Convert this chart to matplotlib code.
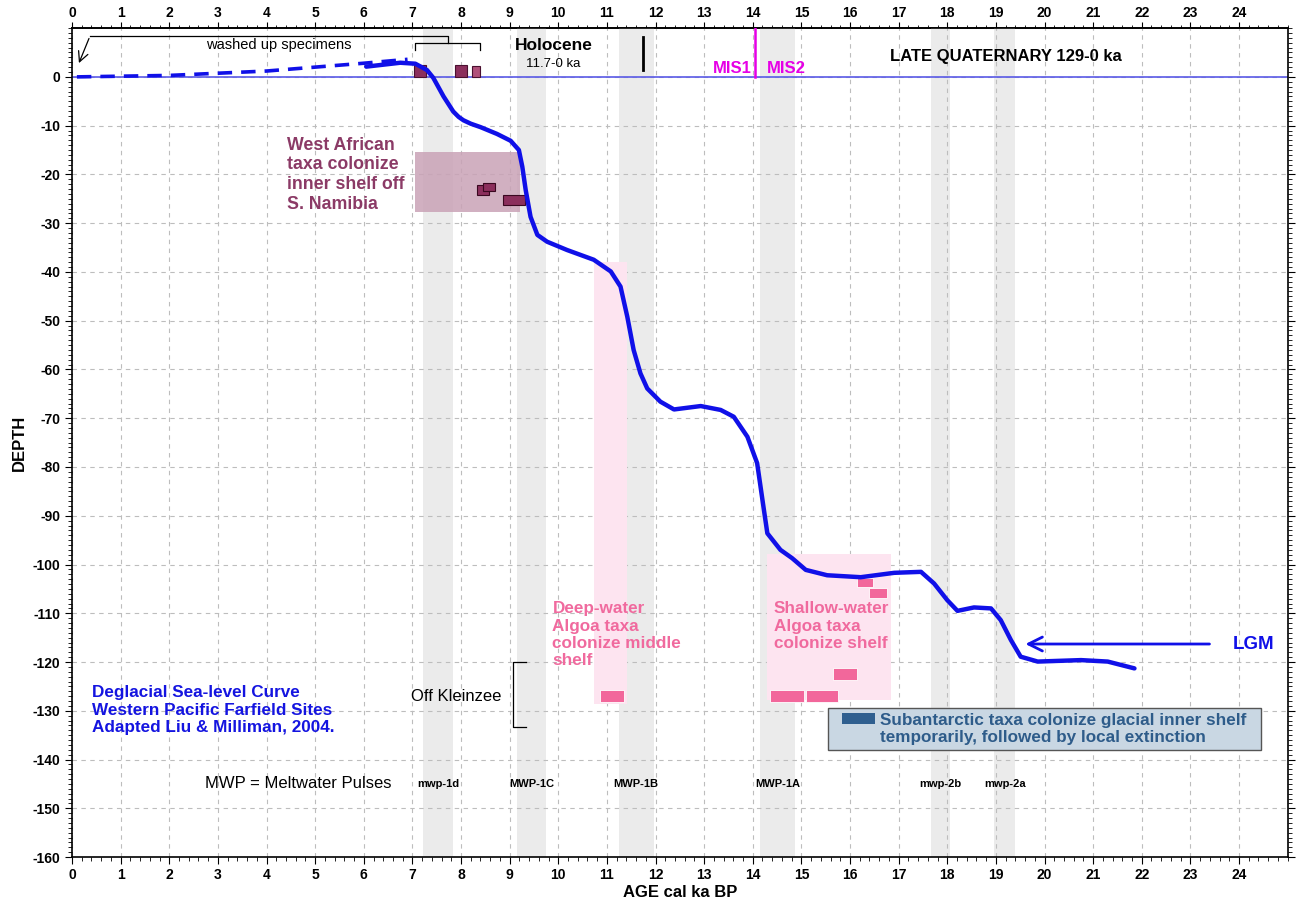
import numpy as np
import matplotlib.pyplot as plt
from matplotlib.ticker import MultipleLocator

plt.rcParams['font.family'] = ['Liberation Sans', 'DejaVu Sans']

# deglacial sea-level curve (age in cal ka BP, depth in m)
curve_age = [6.05, 6.4, 6.75, 7.06, 7.30, 7.43, 7.64, 7.84, 7.95, 8.05, 8.20, 8.40, 8.74, 9.02,
             9.19, 9.26, 9.33, 9.43, 9.57, 9.77, 10.18, 10.73, 11.08, 11.28, 11.42, 11.55,
             11.69, 11.83, 12.10, 12.38, 12.93, 13.34, 13.61, 13.89, 14.09, 14.20, 14.30,
             14.57, 14.81, 15.09, 15.53, 16.22, 16.91, 17.46, 17.73, 18.00, 18.21, 18.55,
             18.90, 19.10, 19.31, 19.51, 19.86, 20.75, 21.30, 21.85]
curve_depth = [2.1, 2.5, 2.9, 2.7, 1.4, -0.2, -4.0, -7.1, -8.2, -8.9, -9.6, -10.3, -11.7, -13.1,
               -15.0, -18.4, -23.2, -28.7, -32.4, -33.8, -35.5, -37.5, -39.9, -43.0, -49.2,
               -56.0, -60.8, -63.9, -66.6, -68.2, -67.5, -68.3, -69.7, -73.8, -79.2, -86.8,
               -93.6, -97.0, -98.7, -101.1, -102.2, -102.6, -101.7, -101.5, -103.9, -107.3,
               -109.5, -108.8, -109.0, -111.4, -115.5, -118.9, -119.9, -119.6, -119.9, -121.3]

# extrapolated late Holocene highstand
dash_age = [0.1, 2.0, 4.0, 6.0, 6.9]
dash_depth = [0.0, 0.3, 1.2, 2.8, 3.6]

# meltwater pulse bands (start, end) and labels
mwp_start = [7.22, 9.15, 11.24, 14.14, 17.67, 18.97]
mwp_end = [7.83, 9.75, 11.96, 14.87, 18.06, 19.40]
mwp_names = ['mwp-1d', 'MWP-1C', 'MWP-1B', 'MWP-1A', 'mwp-2b', 'mwp-2a']

# washed up specimens on the beach (left, right, bottom, top)
washed_left = [7.04, 7.88, 8.22]
washed_right = [7.28, 8.12, 8.39]
washed_bottom = [0.0, 0.0, 0.0]
washed_top = [2.5, 2.5, 2.3]

# West African taxa off S. Namibia
wa_left = [8.33, 8.45, 8.87]
wa_right = [8.58, 8.70, 9.32]
wa_bottom = [-24.2, -23.4, -26.3]
wa_top = [-22.2, -21.7, -24.2]

# Algoa taxa records
algoa_left = [10.85, 14.35, 15.09, 15.65, 16.14, 16.40]
algoa_right = [11.36, 15.05, 15.75, 16.14, 16.47, 16.76]
algoa_bottom = [-128.2, -128.2, -128.2, -123.7, -104.6, -106.9]
algoa_top = [-125.7, -125.7, -125.7, -121.2, -102.8, -104.8]

fig = plt.figure(figsize=(12.98, 9.07), dpi=100)
ax = fig.add_axes([0.0555, 0.055, 0.9365, 0.914])

ax.set_xlim(0, 25)
ax.set_ylim(-160, 10)

# grid
ax.xaxis.set_major_locator(MultipleLocator(1))
ax.xaxis.set_minor_locator(MultipleLocator(0.2))
ax.yaxis.set_major_locator(MultipleLocator(10))
ax.yaxis.set_minor_locator(MultipleLocator(1))
ax.grid(True, which='major', color='#bdbdbd', linestyle=(0, (4, 4)), linewidth=0.8)
ax.set_axisbelow(True)

# meltwater pulse bands
for s, e in zip(mwp_start, mwp_end):
    ax.axvspan(s, e, color='#ebebeb', zorder=0.5, lw=0)
for s, e, name in zip(mwp_start, mwp_end, mwp_names):
    ax.text((s + e) / 2, -145, name, ha='center', va='center', fontsize=8, fontweight='bold')

# habitat boxes
ax.bar(7.05, -27.8 + 15.5, width=2.17, bottom=-15.5, align='edge', color='#c9a2b6', alpha=0.85, lw=0, zorder=1)
ax.bar(10.74, -128.5 + 38, width=0.68, bottom=-38, align='edge', color='#fde4f0', lw=0, zorder=1)
ax.bar(14.3, -127.8 + 97.8, width=2.55, bottom=-97.8, align='edge', color='#fde4f0', lw=0, zorder=1)

# sea level reference line
ax.axhline(0, color='#5a5ae6', lw=1.2, zorder=2)

# specimen markers
ax.bar(washed_left, np.subtract(washed_top, washed_bottom), width=np.subtract(washed_right, washed_left),
       bottom=washed_bottom, align='edge', color=['#8b2f5c', '#8b2f5c', '#b0507a'],
       edgecolor='#4a1030', lw=0.8, zorder=3)
ax.bar(wa_left, np.subtract(wa_top, wa_bottom), width=np.subtract(wa_right, wa_left),
       bottom=wa_bottom, align='edge', color='#8b2f5c', edgecolor='#3a0820', lw=0.8, zorder=3)
ax.bar(algoa_left, np.subtract(algoa_top, algoa_bottom), width=np.subtract(algoa_right, algoa_left),
       bottom=algoa_bottom, align='edge', color='#f2679b', edgecolor='white', lw=0.6, zorder=3)

# sea-level curve
ax.plot(dash_age, dash_depth, color='#1010e8', lw=2.6, linestyle=(0, (4, 2.5)), zorder=4)
ax.plot(curve_age, curve_depth, color='#1010e8', lw=3.2, solid_capstyle='round',
        solid_joinstyle='round', zorder=4)

# washed up specimens bracket
ax.plot([0.37, 7.73, 7.73], [8.4, 8.4, 7.0], color='black', lw=0.9, zorder=5)
ax.plot([7.05, 7.05, 8.39, 8.39], [5.5, 7.0, 7.0, 5.5], color='black', lw=0.9, zorder=5)
ax.annotate('', xy=(0.12, 2.3), xytext=(0.37, 8.4),
            arrowprops=dict(arrowstyle='->', color='black', lw=0.9, mutation_scale=18), zorder=5)
ax.text(4.25, 6.6, 'washed up specimens', ha='center', va='center', fontsize=10.5)

# Holocene / MIS labels
ax.text(9.9, 6.4, 'Holocene', ha='center', va='center', fontsize=12.5, fontweight='bold')
ax.text(9.9, 2.6, '11.7-0 ka', ha='center', va='center', fontsize=9.5)
ax.plot([11.75, 11.75], [1.4, 8.2], color='black', lw=2, zorder=5)
ax.plot([14.05, 14.05], [0, 10], color='#e600e6', lw=1.8, zorder=5)
ax.text(13.57, 1.8, 'MIS1', ha='center', va='center', fontsize=12, fontweight='bold', color='#e600e6')
ax.text(14.68, 1.8, 'MIS2', ha='center', va='center', fontsize=12, fontweight='bold', color='#e600e6')
ax.text(19.2, 4.1, 'LATE QUATERNARY 129-0 ka', ha='center', va='center', fontsize=12, fontweight='bold')

# annotations
ax.text(4.43, -12.3, 'West African\ntaxa colonize\ninner shelf off\nS. Namibia', ha='left', va='top',
        fontsize=12.8, fontweight='bold', color='#8b3a66', linespacing=1.2)
ax.text(9.88, -107.5, 'Deep-water\nAlgoa taxa\ncolonize middle\nshelf', ha='left', va='top',
        fontsize=12.3, fontweight='bold', color='#f06a9e', linespacing=1.2)
ax.text(14.43, -107.5, 'Shallow-water\nAlgoa taxa\ncolonize shelf', ha='left', va='top',
        fontsize=12.3, fontweight='bold', color='#f06a9e', linespacing=1.2)

ax.text(6.97, -127, 'Off Kleinzee', ha='left', va='center', fontsize=12)
ax.plot([9.34, 9.07, 9.07, 9.34], [-120, -120, -133.3, -133.3], color='black', lw=0.9, zorder=5)

ax.text(0.41, -124.8, 'Deglacial Sea-level Curve\nWestern Pacific Farfield Sites\nAdapted Liu & Milliman, 2004.',
        ha='left', va='top', fontsize=12.3, fontweight='bold', color='#1414e0', linespacing=1.2)
ax.text(2.74, -145, 'MWP = Meltwater Pulses', ha='left', va='center', fontsize=12)

ax.annotate('', xy=(19.55, -116.3), xytext=(23.45, -116.3),
            arrowprops=dict(arrowstyle='->', color='#1010e8', lw=2, mutation_scale=25), zorder=5)
ax.text(24.3, -116.3, 'LGM', ha='center', va='center', fontsize=13.5, fontweight='bold', color='#1010e8')

# legend box for subantarctic taxa
ax.bar(15.55, -138 + 129.4, width=8.9, bottom=-129.4, align='edge', color='#c9d7e3',
       edgecolor='#555555', lw=1, zorder=5)
ax.bar(15.84, -132.7 + 130.4, width=0.68, bottom=-130.4, align='edge', color='#2f5f8f', lw=0, zorder=6)
ax.text(16.62, -133.7, 'Subantarctic taxa colonize glacial inner shelf\ntemporarily, followed by local extinction',
        ha='left', va='center', fontsize=12.3, color='#2e5c8a', fontweight='bold', linespacing=1.15,
        zorder=6)

# axes styling: bottom/left/right ticks on main axes, labelled top axis separately
ax.tick_params(axis='x', which='both', top=False, bottom=True, direction='out')
ax.tick_params(axis='y', which='both', left=True, right=True, direction='out')
ax.tick_params(which='major', length=5, labelsize=10)
ax.tick_params(which='minor', length=3)
ax.set_xticks(range(0, 25))
ax.set_xticklabels([str(i) for i in range(0, 25)], fontweight='bold')
ax.set_yticks(range(-160, 1, 10))
ax.set_yticklabels([str(i) for i in range(-160, 1, 10)], fontweight='bold')
ax.tick_params(axis='x', pad=3)

top = ax.secondary_xaxis('top')
top.set_xticks(range(0, 25))
top.set_xticklabels([str(i) for i in range(0, 25)], fontweight='bold')
top.xaxis.set_minor_locator(MultipleLocator(0.2))
top.tick_params(which='major', length=4, labelsize=10, pad=2)
top.tick_params(which='minor', length=2.5)

for sp in ax.spines.values():
    sp.set_linewidth(1.2)
top.spines['top'].set_linewidth(1.2)

ax.set_xlabel('AGE cal ka BP', fontsize=12, fontweight='bold', labelpad=2)
ax.set_ylabel('DEPTH', fontsize=12, fontweight='bold', labelpad=4)

fig.savefig('out.png', dpi=100)
